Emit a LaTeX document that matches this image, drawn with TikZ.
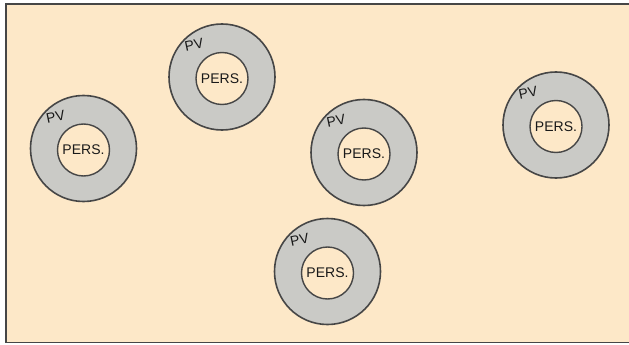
\documentclass[tikz,border=0pt]{standalone}
\usepackage{fontspec}
\setmainfont{Liberation Sans}
\definecolor{paper}{RGB}{253,232,200}
\definecolor{ring}{RGB}{202,202,198}
\definecolor{ink}{RGB}{70,70,70}
\tikzset{
  outerring/.style={circle, draw=ink, line width=1.6pt, fill=ring, minimum size=106pt, inner sep=0pt},
  innerdisc/.style={circle, draw=ink, line width=1.4pt, fill=paper, minimum size=52pt, inner sep=0pt,
    font=\fontsize{14}{15}\selectfont, text=black!90},
  pvlabel/.style={font=\fontsize{14}{15}\selectfont, text=black!90, rotate=12, inner sep=0pt}
}
\begin{document}
\begin{tikzpicture}[x=1pt, y=-1pt]
  \useasboundingbox (0,0) rectangle (629,345);
  \fill[white] (0,0) rectangle (629,345);
  \fill[paper] (6,4) rectangle (629,342.5);
  \draw[ink, line width=1.6pt] (629,4) -- (6,4) -- (6,342.5) -- (629,342.5);

  % each zone: outer ring, inner disc with its label, and the ring label
  \foreach \n/\cx/\cy in {a/83.5/148.5, b/222/77, c/364/152.5, d/556/125, e/327.5/271.5} {
    \node[outerring] (ring\n) at (\cx,\cy) {};
    \node[innerdisc] (pers\n) at (\cx,\cy+1.5) {PERS.};
    \node[pvlabel] (pv\n) at (\cx-28,\cy-32) {PV};
  }
\end{tikzpicture}
\end{document}
